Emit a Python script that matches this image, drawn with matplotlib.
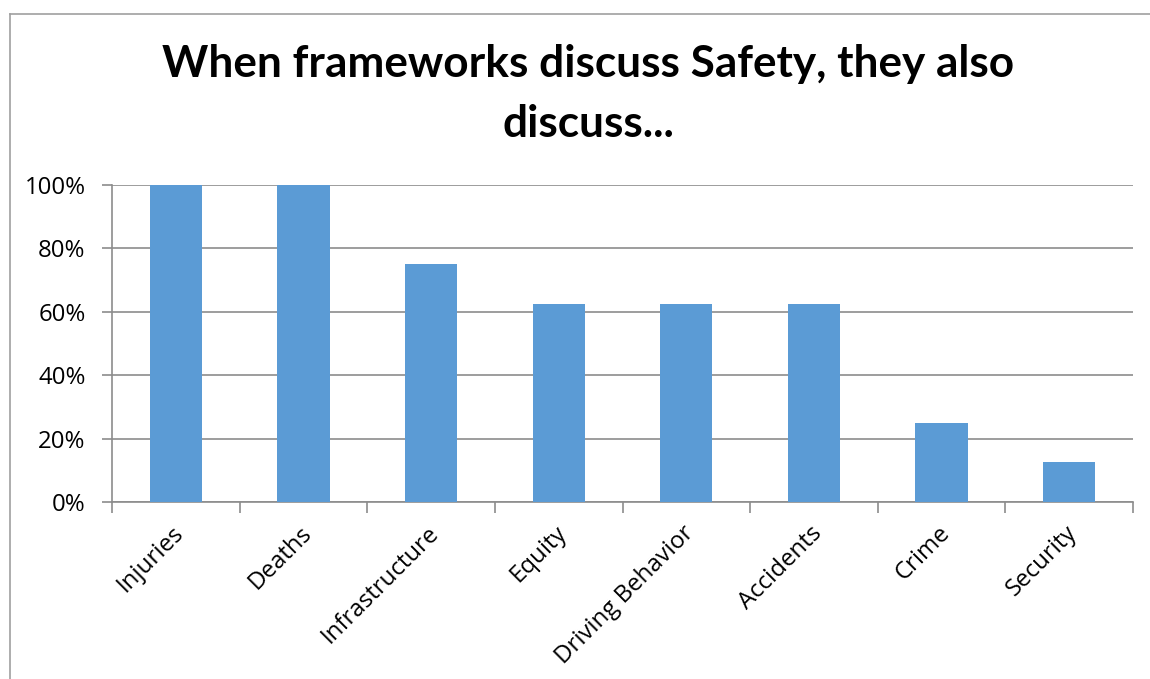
import matplotlib.pyplot as plt
from matplotlib.lines import Line2D
from matplotlib.ticker import FuncFormatter

categories = ["Injuries", "Deaths", "Infrastructure", "Equity",
              "Driving Behavior", "Accidents", "Crime", "Security"]
shares = [1.0, 1.0, 0.75, 0.625, 0.625, 0.625, 0.25, 0.125]
y_ticks = [0.0, 0.2, 0.4, 0.6, 0.8, 1.0]

bar_color = "#5B9BD5"
grid_color = "#8C8C8C"
label_font = "Open Sans"
title_font = "Lato"

fig = plt.figure(figsize=(11.5, 6.79), dpi=100)
ax = fig.add_axes([112 / 1150, 1 - 502 / 679, 1021 / 1150, 317 / 679])

x = range(len(categories))
ax.bar(x, shares, width=0.41, color=bar_color, zorder=3)

ax.set_xlim(-0.5, len(categories) - 0.5)
ax.set_ylim(0, 1)
ax.set_yticks(y_ticks)
ax.yaxis.set_major_formatter(FuncFormatter(lambda v, _: f"{v:.0%}"))
ax.grid(axis="y", color=grid_color, linewidth=1.2, zorder=0)

# category boundary ticks below the axis
ax.set_xticks([i - 0.5 for i in range(len(categories) + 1)])
ax.set_xticklabels([])
ax.tick_params(axis="x", length=8, color=grid_color, width=1.2)
ax.tick_params(axis="y", length=7, color=grid_color, width=1.2,
               labelsize=17.3, pad=12)
for lab in ax.get_yticklabels():
    lab.set_fontfamily(label_font)

for i, name in enumerate(categories):
    ax.text(i - 0.03, -0.06, name, rotation=45, ha="right", va="top",
            rotation_mode="anchor", fontsize=17.3, family=label_font,
            transform=ax.transData, clip_on=False)

for side in ("top", "right"):
    ax.spines[side].set_visible(False)
ax.spines["left"].set_color(grid_color)
ax.spines["bottom"].set_color(grid_color)
ax.spines["left"].set_linewidth(1.2)
ax.spines["bottom"].set_linewidth(1.2)

fig.text(588 / 1150, 1 - 64 / 679, "When frameworks discuss Safety, they also",
         ha="center", va="center", fontsize=31.8, fontweight="bold", family=title_font)
fig.text(588 / 1150, 1 - 124 / 679, "discuss...",
         ha="center", va="center", fontsize=31.8, fontweight="bold", family=title_font)

# chart area border
fig.add_artist(Line2D([10 / 1150, 1], [1 - 14 / 679, 1 - 14 / 679],
                      transform=fig.transFigure, color="#A0A0A0", linewidth=1.2))
fig.add_artist(Line2D([10 / 1150, 10 / 1150], [0, 1 - 14 / 679],
                      transform=fig.transFigure, color="#A0A0A0", linewidth=1.2))

fig.savefig("out.png", dpi=100)
